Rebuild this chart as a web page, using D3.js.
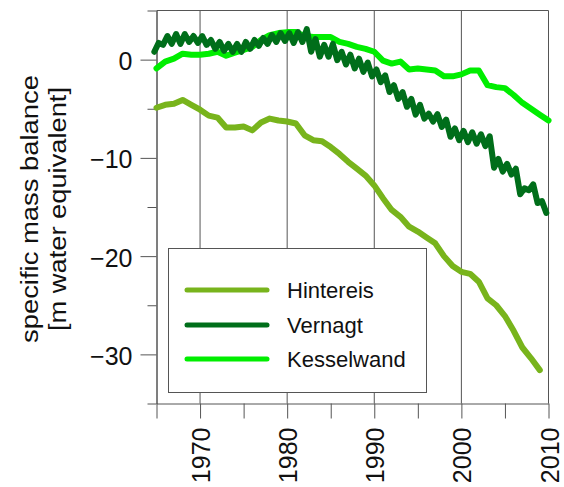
<!DOCTYPE html>
<html>
<head>
<meta charset="utf-8">
<script src="https://cdn.jsdelivr.net/npm/d3@7"></script>
<style>
  html, body { margin: 0; padding: 0; background: #ffffff; }
  svg { display: block; font-family: "Liberation Sans", Arial, sans-serif; }
</style>
</head>
<body>
<svg id="chart" width="564" height="487"></svg>
<script>
// ---- data ----
const seriesNames = ["Hintereis", "Vernagt", "Kesselwand"];
const seriesColors = ["#78b41c", "#006e1a", "#00ee00"];

const hintereisYears = d3.range(1965, 2010);
const hintereis = [
  -4.9, -4.6, -4.5, -4.1, -4.6, -5.1, -5.7, -5.9, -6.9, -6.9,
  -6.8, -7.2, -6.4, -6.0, -6.2, -6.3, -6.5, -7.7, -8.2, -8.3,
  -8.9, -9.6, -10.4, -11.1, -11.8, -12.8, -14.1, -15.3, -16.0, -17.0,
  -17.5, -18.1, -18.7, -20.0, -21.0, -21.6, -21.8, -22.6, -24.3, -25.0,
  -26.1, -27.6, -29.3, -30.4, -31.6
];

const kesselwandYears = d3.range(1965, 2011);
const kesselwand = [
  -0.9, -0.2, 0.1, 0.6, 0.5, 0.5, 0.6, 0.8, 0.4, 0.7,
  1.0, 1.3, 2.0, 2.5, 2.7, 2.8, 2.8, 2.4, 2.3, 2.3,
  2.3, 1.8, 1.6, 1.3, 1.1, 0.8, -0.1, -0.4, -0.2, -1.0,
  -0.9, -1.0, -1.1, -1.7, -1.7, -1.5, -1.1, -1.1, -2.6, -2.8,
  -2.9, -3.6, -4.4, -5.0, -5.6, -6.2
];

// Vernagt: cumulative balance after each summer (1964..2009) and after each winter (1965..2009)
const vernagtSummerYears = d3.range(1964, 2010);
const vernagtSummer = [
  0.8, 1.5, 1.6, 1.6, 1.8, 1.7, 1.5, 1.1, 0.9, 0.8,
  0.8, 1.1, 1.4, 1.6, 1.8, 1.9, 1.7, 1.8, 0.8, 0.3,
  0.3, -0.05, -0.5, -0.9, -1.24, -1.7, -2.3, -3.3, -4.0, -4.8,
  -5.6, -6.0, -6.3, -6.85, -7.85, -8.2, -8.4, -8.55, -8.8, -11.0,
  -11.4, -11.7, -13.7, -13.3, -14.6, -15.6
];
const vernagtWinterYears = d3.range(1965, 2010);
const vernagtWinter = [
  1.7, 2.4, 2.6, 2.6, 2.4, 2.4, 2.0, 1.8, 1.6, 1.6,
  1.8, 2.0, 2.2, 2.5, 2.7, 2.7, 2.8, 3.1, 2.1, 1.5,
  1.6, 0.8, 0.5, 0.1, -0.3, -1.0, -1.6, -2.6, -3.3, -4.0,
  -4.6, -5.5, -5.55, -6.1, -7.0, -7.25, -7.4, -7.6, -7.8, -10.1,
  -10.6, -11.1, -13.1, -12.7, -14.4
];

const yMajorTicks = [0, -10, -20, -30];
const yMinorTicks = [5, -5, -15, -25, -35];
const xTicks = [1965, 1970, 1975, 1980, 1985, 1990, 1995, 2000, 2005, 2010];
const xLabelTicks = [1970, 1980, 1990, 2000, 2010];
const yTitle = ["specific mass balance", "[m water equivalent]"];

// ---- build point lists ----
const hintereisPts = hintereisYears.map((t, i) => [t, hintereis[i]]);
const kesselwandPts = kesselwandYears.map((t, i) => [t, kesselwand[i]]);
const vernagtPts = [];
vernagtSummerYears.forEach((yr, i) => {
  if (i > 0) {
    const wi = vernagtWinterYears.indexOf(yr);
    vernagtPts.push([yr + 0.25, vernagtWinter[wi]]);
  }
  vernagtPts.push([yr + 0.75, vernagtSummer[i]]);
});

// ---- scales ----
const svg = d3.select("#chart");
const x = d3.scaleLinear().domain([1965, 2010]).range([156.5, 548.5]);
const y = d3.scaleLinear().domain([-35, 5]).range([403.5, 10.5]);
const gridColor = "#555555";

svg.append("rect").attr("width", 564).attr("height", 487).attr("fill", "#ffffff");

// vertical gridlines
svg.append("g").selectAll("line").data(xLabelTicks).join("line")
  .attr("x1", d => x(d)).attr("x2", d => x(d))
  .attr("y1", y(5)).attr("y2", y(-35))
  .attr("stroke", gridColor).attr("stroke-width", 1);

// top frame line
svg.append("line")
  .attr("x1", x(1965)).attr("x2", x(2010))
  .attr("y1", y(5)).attr("y2", y(5))
  .attr("stroke", gridColor).attr("stroke-width", 1);

// y axis
const yMajor = svg.append("g").attr("transform", `translate(${x(1965)},0)`)
  .call(d3.axisLeft(y).tickValues(yMajorTicks).tickSize(16).tickSizeOuter(0).tickPadding(8).tickFormat(d3.format("d")));
const yMinor = svg.append("g").attr("transform", `translate(${x(1965)},0)`)
  .call(d3.axisLeft(y).tickValues(yMinorTicks).tickSize(9).tickSizeOuter(0).tickFormat(""));
[yMajor, yMinor].forEach(g => {
  g.selectAll("path,line").attr("stroke", gridColor).attr("stroke-width", 1);
});
yMajor.selectAll("text").attr("font-size", 25).attr("fill", "#111").attr("dy", "0.4em")
  .style("font-family", '"Liberation Sans", Arial, sans-serif');

// x axis
const xAxis = svg.append("g").attr("transform", `translate(0,${y(-35)})`)
  .call(d3.axisBottom(x).tickValues(xTicks).tickSize(15).tickSizeOuter(0)
    .tickFormat(d => xLabelTicks.includes(d) ? String(d) : ""));
xAxis.selectAll("path,line").attr("stroke", gridColor).attr("stroke-width", 1);
xAxis.selectAll("text")
  .attr("font-size", 25).attr("fill", "#111")
  .attr("x", 0).attr("y", 0).attr("dy", 0)
  .attr("text-anchor", "end")
  .attr("transform", "translate(9.5,24) rotate(-90)")
  .style("font-family", '"Liberation Sans", Arial, sans-serif');

// y title
const titleX = [38, 66];
const titleLen = [268, 244];
yTitle.forEach((t, i) => {
  svg.append("text")
    .attr("transform", `translate(${titleX[i]},209) rotate(-90)`)
    .attr("text-anchor", "middle")
    .attr("font-size", 23)
    .attr("fill", "#111")
    .attr("textLength", titleLen[i])
    .attr("lengthAdjust", "spacingAndGlyphs")
    .text(t);
});

// lines
const line = d3.line().x(d => x(d[0])).y(d => y(d[1]));
const drawOrder = [
  [hintereisPts, seriesColors[0]],
  [kesselwandPts, seriesColors[2]],
  [vernagtPts, seriesColors[1]]
];
drawOrder.forEach(([pts, col]) => {
  svg.append("path").datum(pts)
    .attr("d", line)
    .attr("fill", "none")
    .attr("stroke", col)
    .attr("stroke-width", 6)
    .attr("stroke-linejoin", "round")
    .attr("stroke-linecap", "round");
});

// legend
const lg = svg.append("g");
lg.append("rect").attr("x", 168.5).attr("y", 248.5).attr("width", 258).attr("height", 144)
  .attr("fill", "#ffffff").attr("stroke", gridColor).attr("stroke-width", 1);
const legendY = [290, 325, 359];
seriesNames.forEach((name, i) => {
  lg.append("line").attr("x1", 187).attr("x2", 267)
    .attr("y1", legendY[i]).attr("y2", legendY[i])
    .attr("stroke", seriesColors[i]).attr("stroke-width", 5).attr("stroke-linecap", "round");
  lg.append("text").attr("x", 287).attr("y", legendY[i] + 7.5)
    .attr("font-size", 22).attr("fill", "#111").text(name);
});
</script>
</body>
</html>
